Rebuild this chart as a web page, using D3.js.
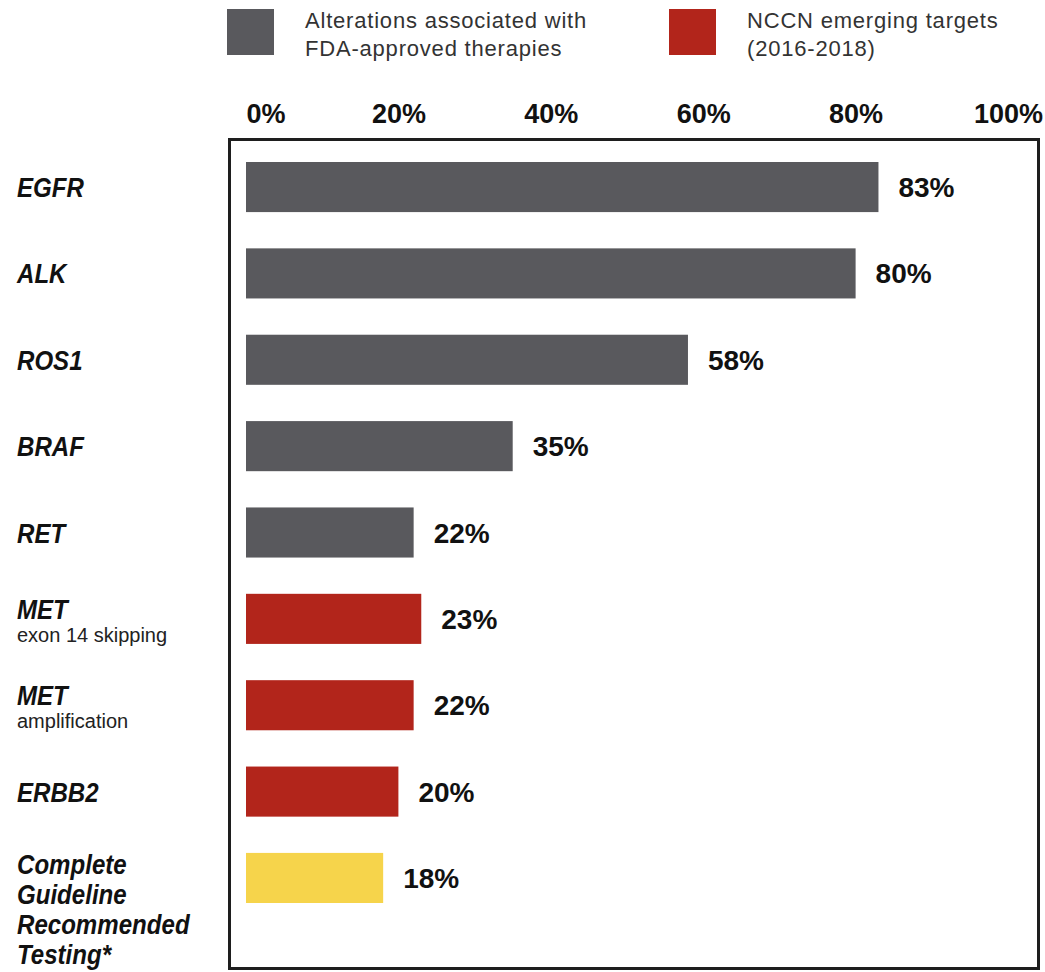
<!DOCTYPE html>
<html>
<head>
<meta charset="utf-8">
<script src="https://cdn.jsdelivr.net/npm/d3@7"></script>
<style>
  body { margin: 0; background: #fff; }
</style>
</head>
<body>
<div id="chart"></div>
<script>
// rows, top to bottom
const categories = [
    ["EGFR"], ["ALK"], ["ROS1"], ["BRAF"], ["RET"],
    ["MET"], ["MET"], ["ERBB2"],
    ["Complete", "Guideline", "Recommended", "Testing*"]
];
const subLabels = ["", "", "", "", "", "exon 14 skipping", "amplification", "", ""];
const groups = ["fda", "fda", "fda", "fda", "fda", "nccn", "nccn", "nccn", "complete"];
const values = [83, 80, 58, 35, 22, 23, 22, 20, 18];
const tickValues = [0, 20, 40, 60, 80, 100];

const legendKeys = ["fda", "nccn"];
const legendLabels = [
    ["Alterations associated with", "FDA-approved therapies"],
    ["NCCN emerging targets", "(2016-2018)"]
];

const width = 1045;
const height = 972;

const colors = { fda: "#59595d", nccn: "#b2251b", complete: "#f6d44b" };

const svg = d3.select("#chart")
    .append("svg")
    .attr("width", width)
    .attr("height", height);

const x = d3.scaleLinear()
    .domain([0, 100])
    .range([246, 1008]);

const y = d3.scaleBand()
    .domain(d3.range(values.length))
    .range([162, 903])
    .paddingInner(0.42)
    .paddingOuter(0);

// Frame
svg.append("rect")
    .attr("x", 229.5)
    .attr("y", 139.5)
    .attr("width", 809)
    .attr("height", 829)
    .attr("fill", "none")
    .attr("stroke", "#1e1e1e")
    .attr("stroke-width", 3);

// Top axis with percent labels
const axis = svg.append("g")
    .attr("transform", "translate(0,123)")
    .call(d3.axisTop(x).tickValues(tickValues).tickSize(0).tickFormat(d => d + "%"));
axis.select(".domain").remove();
axis.selectAll("text")
    .attr("y", 0)
    .attr("dy", 0)
    .attr("font-family", "'Liberation Sans', Arial, sans-serif")
    .attr("font-weight", "bold")
    .attr("font-size", "27px")
    .attr("fill", "#111")
    .attr("text-anchor", d => d === 0 ? "start" : "middle");

// Bars
svg.selectAll(".bar")
    .data(values)
    .join("rect")
    .attr("class", "bar")
    .attr("x", x(0))
    .attr("y", (d, i) => y(i))
    .attr("width", d => x(d) - x(0))
    .attr("height", y.bandwidth())
    .attr("fill", (d, i) => colors[groups[i]]);

// Value labels
svg.selectAll(".value")
    .data(values)
    .join("text")
    .attr("class", "value")
    .attr("x", d => x(d) + 20)
    .attr("y", (d, i) => y(i) + y.bandwidth() / 2 + 10)
    .attr("font-family", "'Liberation Sans', Arial, sans-serif")
    .attr("font-weight", "bold")
    .attr("font-size", "28px")
    .attr("fill", "#111")
    .text(d => d + "%");

// Row labels (condensed bold italic look via horizontal squeeze)
const rows = svg.selectAll(".row")
    .data(categories)
    .join("g")
    .attr("class", "row")
    .attr("transform", (d, i) => `translate(17,${y(i) + y.bandwidth() / 2})`);

rows.each(function(lines, i) {
    const g = d3.select(this);
    let y0 = 10;
    if (subLabels[i]) y0 = 0;
    else if (lines.length > 1) y0 = -4;
    g.selectAll("text.name")
        .data(lines)
        .join("text")
        .attr("class", "name")
        .attr("transform", (d, j) => `translate(0,${y0 + j * 30}) scale(0.86,1)`)
        .attr("font-family", "'Liberation Sans', Arial, sans-serif")
        .attr("font-weight", "bold")
        .attr("font-style", "italic")
        .attr("font-size", "28px")
        .attr("fill", "#111")
        .text(d => d);
    if (subLabels[i]) {
        g.append("text")
            .attr("x", 0)
            .attr("y", y0 + 23)
            .attr("font-family", "'Liberation Sans', Arial, sans-serif")
            .attr("font-size", "20px")
            .attr("fill", "#222")
            .text(subLabels[i]);
    }
});

// Legend
const legendX = [227, 669];
const legend = svg.selectAll(".legend")
    .data(legendKeys)
    .join("g")
    .attr("class", "legend")
    .attr("transform", (d, i) => `translate(${legendX[i]},9)`);

legend.append("rect")
    .attr("width", 47)
    .attr("height", 46)
    .attr("fill", d => colors[d]);

legend.each(function(d, i) {
    d3.select(this).selectAll("text")
        .data(legendLabels[i])
        .join("text")
        .attr("x", 78)
        .attr("y", (t, j) => 19 + j * 28)
        .attr("font-family", "'Liberation Sans', Arial, sans-serif")
        .attr("font-size", "22px")
        .attr("letter-spacing", "0.8px")
        .attr("fill", "#333")
        .text(t => t);
});
</script>
</body>
</html>
